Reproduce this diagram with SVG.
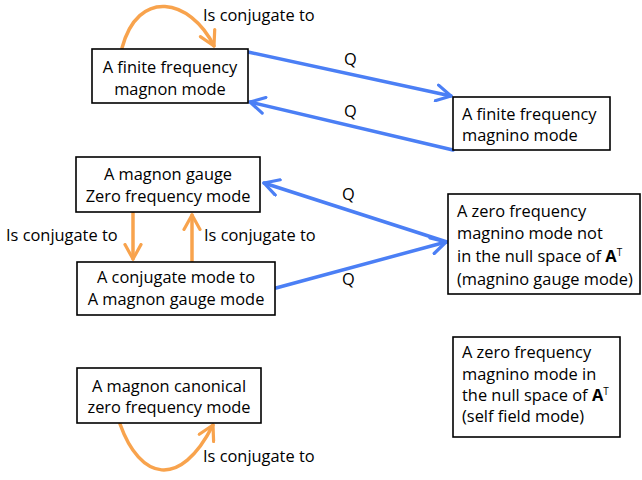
<svg xmlns="http://www.w3.org/2000/svg" width="642" height="480" viewBox="0 0 642 480">
<defs>
<style>
.box{fill:#fff;stroke:#000;stroke-width:1.6}
.t{font-family:"Open Sans","Liberation Sans",Arial,sans-serif;font-size:16.4px;fill:#000}
.c{text-anchor:middle}
.blue{fill:none;stroke:#4B7FF5;stroke-width:3.5;stroke-linecap:round}
.orange{fill:none;stroke:#F8A34D;stroke-width:3.5;stroke-linecap:round}
</style>
<marker id="ab" viewBox="0 0 12 12" refX="10" refY="6" markerWidth="5.5" markerHeight="5.5" orient="auto" markerUnits="strokeWidth">
<polyline points="1,1 10,6 1,11" fill="none" stroke="#4B7FF5" stroke-width="2" stroke-linecap="round" stroke-linejoin="round"/>
</marker>
<marker id="ao" viewBox="0 0 12 12" refX="10" refY="6" markerWidth="5.5" markerHeight="5.5" orient="auto" markerUnits="strokeWidth">
<polyline points="1,1 10,6 1,11" fill="none" stroke="#F8A34D" stroke-width="2" stroke-linecap="round" stroke-linejoin="round"/>
</marker>
</defs>
<rect width="642" height="480" fill="#fff"/>
<g id="connectors">
<path class="orange" d="M122,48 C138,-12 190,-2 214,46" marker-end="url(#ao)"/>
<line class="orange" x1="133" y1="213" x2="133" y2="259" marker-end="url(#ao)"/>
<line class="orange" x1="192" y1="261" x2="192" y2="215" marker-end="url(#ao)"/>
<path class="orange" d="M120,424 C140,480 180,490 213,425" marker-end="url(#ao)"/>
<line class="blue" x1="248" y1="52" x2="451" y2="96" marker-end="url(#ab)"/>
<line class="blue" x1="453" y1="150" x2="250" y2="102" marker-end="url(#ab)"/>
<line class="blue" x1="447" y1="242" x2="264" y2="183" marker-end="url(#ab)"/>
<line class="blue" x1="276" y1="288" x2="446" y2="242" marker-end="url(#ab)"/>
<text class="t" x="203" y="21">Is conjugate to</text>
<text class="t" x="344" y="65">Q</text>
<text class="t" x="344" y="117">Q</text>
<text class="t" x="6" y="241">Is conjugate to</text>
<text class="t" x="204" y="241">Is conjugate to</text>
<text class="t" x="342" y="200">Q</text>
<text class="t" x="342" y="285">Q</text>
<text class="t" x="203" y="462">Is conjugate to</text>
</g>
<g id="n1">
<rect class="box" x="92" y="49" width="156" height="54"/>
<text class="t c" x="170" y="73">A finite frequency</text>
<text class="t c" x="170" y="95">magnon mode</text>
</g>
<g id="n2">
<rect class="box" x="453" y="97" width="157" height="53"/>
<text class="t" x="462" y="120">A finite frequency</text>
<text class="t" x="462" y="141">magnino mode</text>
</g>
<g id="n3">
<rect class="box" x="76" y="157" width="184" height="55"/>
<text class="t c" x="168" y="180">A magnon gauge</text>
<text class="t c" x="168" y="202">Zero frequency mode</text>
</g>
<g id="n4">
<rect class="box" x="77" y="262" width="198" height="53"/>
<text class="t c" x="176" y="283">A conjugate mode to</text>
<text class="t c" x="176" y="305">A magnon gauge mode</text>
</g>
<g id="n5">
<rect class="box" x="448" y="194" width="192" height="100"/>
<text class="t" x="457" y="217">A zero frequency</text>
<text class="t" x="457" y="239">magnino mode not</text>
<text class="t" x="457" y="262">in the null space of <tspan font-weight="bold">A</tspan><tspan font-size="10" dy="-6">T</tspan></text>
<text class="t" x="457" y="285">(magnino gauge mode)</text>
</g>
<g id="n6">
<rect class="box" x="453" y="337" width="167" height="100"/>
<text class="t" x="462" y="358">A zero frequency</text>
<text class="t" x="462" y="380">magnino mode in</text>
<text class="t" x="462" y="401">the null space of <tspan font-weight="bold">A</tspan><tspan font-size="10" dy="-6">T</tspan></text>
<text class="t" x="462" y="422">(self field mode)</text>
</g>
<g id="n7">
<rect class="box" x="77" y="368" width="184" height="55"/>
<text class="t c" x="169" y="392">A magnon canonical</text>
<text class="t c" x="169" y="413">zero frequency mode</text>
</g>
</svg>
